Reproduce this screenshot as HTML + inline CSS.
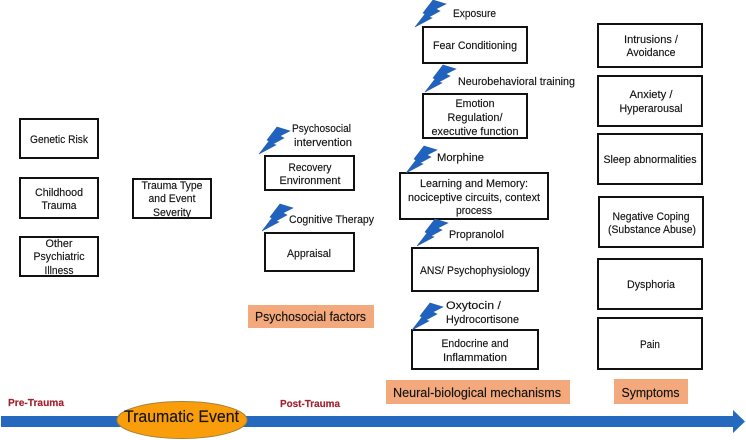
<!DOCTYPE html>
<html lang="en">
<head>
<meta charset="utf-8">
<title>Trauma diagram</title>
<style>
html,body{margin:0;padding:0;background:#fff;width:746px;height:440px;overflow:hidden}
svg{display:block}
text{font-family:"Liberation Sans",sans-serif;font-size:11px;fill:#141414;stroke:#141414;stroke-width:.15px;text-anchor:middle}
.s{text-anchor:start}
.b{fill:#fff;stroke:#111;stroke-width:2}
.o{fill:#f4a97c}
.l{font-size:13px}
.r{fill:#a3212e;stroke:#a3212e;font-weight:bold;font-size:10.5px;text-anchor:start}
.bolt{fill:#1f62c0;stroke:#2f5f9f;stroke-width:.6}
</style>
</head>
<body>
<svg width="746" height="440" viewBox="0 0 746 440" xmlns="http://www.w3.org/2000/svg">
<defs>
<path id="z" d="M0 0L10-13L8-14L18-27L31-23L21-18L25-16L14-10L17-9Z"/>
</defs>

<!-- Boxes -->
<rect class="b" x="20" y="119" width="78" height="39"/>
<rect class="b" x="20" y="178" width="78" height="40"/>
<rect class="b" x="20" y="237" width="78" height="39"/>
<rect class="b" x="133" y="179" width="78" height="39"/>
<rect class="b" x="265" y="156" width="89" height="34"/>
<rect class="b" x="265" y="233" width="89" height="38"/>
<rect class="b" x="423" y="27" width="104" height="36"/>
<rect class="b" x="423" y="94" width="104" height="44"/>
<rect class="b" x="400" y="173" width="148" height="46"/>
<rect class="b" x="412" y="248" width="126" height="43"/>
<rect class="b" x="412" y="330" width="126" height="39"/>
<rect class="b" x="598" y="24" width="104" height="43"/>
<rect class="b" x="598" y="76" width="104" height="50"/>
<rect class="b" x="598" y="134" width="104" height="50"/>
<rect class="b" x="599" y="197" width="104" height="50"/>
<rect class="b" x="598" y="259" width="104" height="50"/>
<rect class="b" x="598" y="318" width="104" height="51"/>

<!-- Orange labels -->
<rect class="o" x="248" y="305" width="126" height="23"/>
<rect class="o" x="386" y="380" width="184" height="24"/>
<rect class="o" x="614" y="379" width="74" height="25"/>

<!-- Lightning bolts -->
<use href="#z" class="bolt" x="415" y="27"/>
<use href="#z" class="bolt" x="425" y="92"/>
<use href="#z" class="bolt" x="406" y="173"/>
<use href="#z" class="bolt" x="417" y="246"/>
<use href="#z" class="bolt" x="412" y="330"/>
<use href="#z" class="bolt" x="259" y="154"/>
<use href="#z" class="bolt" x="262" y="231"/>

<!-- Timeline -->
<path d="M1 416H733V410L745 421.5L733 433V427H1Z" fill="#2469bd"/>
<ellipse cx="182" cy="420" rx="65" ry="18.5" fill="#f99d0a" stroke="#a5843a" stroke-width="1"/>
<text x="181.500" y="422" style="font-size:17px" textLength="115" lengthAdjust="spacingAndGlyphs">Traumatic Event</text>
<text class="r" x="8" y="406" textLength="56" lengthAdjust="spacingAndGlyphs">Pre-Trauma</text>
<text class="r" x="280" y="407" textLength="60" lengthAdjust="spacingAndGlyphs">Post-Trauma</text>

<!-- Left column -->
<text x="59" y="143" textLength="58" lengthAdjust="spacingAndGlyphs">Genetic Risk</text>
<text x="59" y="196" textLength="48" lengthAdjust="spacingAndGlyphs">Childhood</text>
<text x="59" y="209" textLength="35" lengthAdjust="spacingAndGlyphs">Trauma</text>
<text x="59" y="247" textLength="27" lengthAdjust="spacingAndGlyphs">Other</text>
<text x="59" y="260" textLength="51" lengthAdjust="spacingAndGlyphs">Psychiatric</text>
<text x="59" y="274" textLength="29" lengthAdjust="spacingAndGlyphs">Illness</text>
<text x="172" y="189" textLength="61" lengthAdjust="spacingAndGlyphs">Trauma Type</text>
<text x="172" y="202" textLength="47" lengthAdjust="spacingAndGlyphs">and Event</text>
<text x="172" y="216" textLength="38" lengthAdjust="spacingAndGlyphs">Severity</text>

<!-- Psychosocial -->
<text class="s" x="292" y="132" textLength="59" lengthAdjust="spacingAndGlyphs">Psychosocial</text>
<text class="s" x="294" y="146" textLength="58" lengthAdjust="spacingAndGlyphs">intervention</text>
<text x="310" y="171" textLength="43" lengthAdjust="spacingAndGlyphs">Recovery</text>
<text x="310" y="184" textLength="61" lengthAdjust="spacingAndGlyphs">Environment</text>
<text class="s" x="289" y="223" textLength="85" lengthAdjust="spacingAndGlyphs">Cognitive Therapy</text>
<text x="309" y="257" textLength="44" lengthAdjust="spacingAndGlyphs">Appraisal</text>
<text class="l" x="310.500" y="321" textLength="111" lengthAdjust="spacingAndGlyphs">Psychosocial factors</text>

<!-- Neural -->
<text class="s" x="453" y="17" textLength="43" lengthAdjust="spacingAndGlyphs">Exposure</text>
<text x="475" y="49" textLength="84" lengthAdjust="spacingAndGlyphs">Fear Conditioning</text>
<text class="s" x="458" y="85" textLength="117" lengthAdjust="spacingAndGlyphs">Neurobehavioral training</text>
<text x="475" y="107" textLength="39" lengthAdjust="spacingAndGlyphs">Emotion</text>
<text x="475" y="121" textLength="55" lengthAdjust="spacingAndGlyphs">Regulation/</text>
<text x="475" y="135" textLength="87" lengthAdjust="spacingAndGlyphs">executive function</text>
<text class="s" x="437" y="161" textLength="47" lengthAdjust="spacingAndGlyphs">Morphine</text>
<text x="474" y="187" textLength="108" lengthAdjust="spacingAndGlyphs">Learning and Memory:</text>
<text x="474" y="201" textLength="132" lengthAdjust="spacingAndGlyphs">nociceptive circuits, context</text>
<text x="474" y="214" textLength="36" lengthAdjust="spacingAndGlyphs">process</text>
<text class="s" x="449" y="238" textLength="55" lengthAdjust="spacingAndGlyphs">Propranolol</text>
<text x="475" y="274" textLength="110" lengthAdjust="spacingAndGlyphs">ANS/ Psychophysiology</text>
<text class="s" x="446" y="309" textLength="55" lengthAdjust="spacingAndGlyphs">Oxytocin /</text>
<text class="s" x="446" y="323" textLength="73" lengthAdjust="spacingAndGlyphs">Hydrocortisone</text>
<text x="475" y="347" textLength="67" lengthAdjust="spacingAndGlyphs">Endocrine and</text>
<text x="475" y="361" textLength="64" lengthAdjust="spacingAndGlyphs">Inflammation</text>
<text class="l" x="477" y="397" textLength="168" lengthAdjust="spacingAndGlyphs">Neural-biological mechanisms</text>

<!-- Symptoms -->
<text x="651" y="43" textLength="54" lengthAdjust="spacingAndGlyphs">Intrusions /</text>
<text x="651" y="56" textLength="49" lengthAdjust="spacingAndGlyphs">Avoidance</text>
<text x="651" y="98" textLength="43" lengthAdjust="spacingAndGlyphs">Anxiety /</text>
<text x="651" y="112" textLength="63" lengthAdjust="spacingAndGlyphs">Hyperarousal</text>
<text x="650" y="163" textLength="93" lengthAdjust="spacingAndGlyphs">Sleep abnormalities</text>
<text x="651" y="220" textLength="77" lengthAdjust="spacingAndGlyphs">Negative Coping</text>
<text x="652" y="233" textLength="88" lengthAdjust="spacingAndGlyphs">(Substance Abuse)</text>
<text x="651" y="288" textLength="48" lengthAdjust="spacingAndGlyphs">Dysphoria</text>
<text x="650" y="348" textLength="20" lengthAdjust="spacingAndGlyphs">Pain</text>
<text class="l" x="650.500" y="397" textLength="58" lengthAdjust="spacingAndGlyphs">Symptoms</text>
</svg>
</body>
</html>
